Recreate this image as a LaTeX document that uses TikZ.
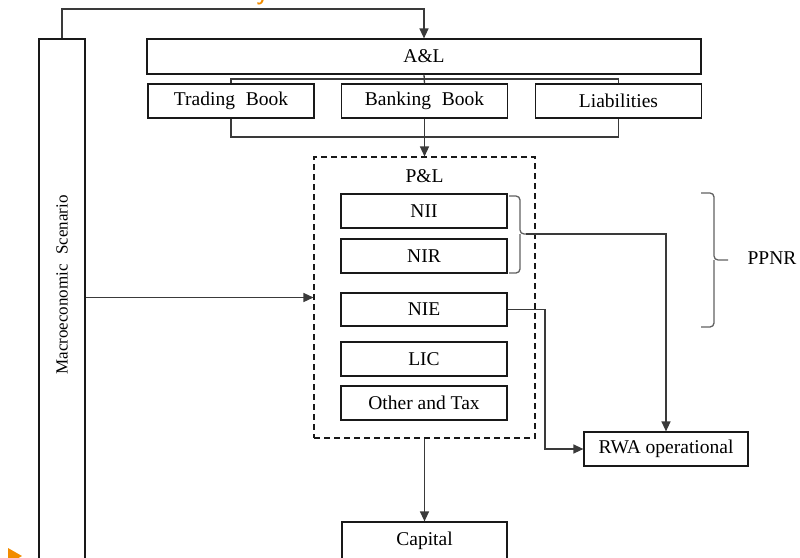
\documentclass[tikz,border=0pt]{standalone}
\usepackage{fontspec}
\setmainfont{Liberation Serif}
\usetikzlibrary{arrows.meta,calc}
\definecolor{lin}{HTML}{3A3A3A}
\definecolor{org}{HTML}{F28C00}
\tikzset{
  txt/.style={font=\fontsize{19.5}{22}\selectfont},
  box/.style={draw=black!90, line width=1.2pt, fill=white, inner sep=0pt, txt},
  conn/.style={draw=lin, line width=1.3pt},
  arr/.style={conn, -{Triangle[length=10pt,width=9pt]}},
  brc/.style={draw=lin!80, line width=1.3pt, rounded corners=4pt},
}
\begin{document}
\begin{tikzpicture}[x=1pt,y=-1pt]
\useasboundingbox (0,0) rectangle (800,557);
\clip (0,0) rectangle (800,557);
% orange fragments
\node[text=org, font=\sffamily\bfseries\fontsize{22}{24}\selectfont, anchor=base, inner sep=0pt] (oy) at (262,0) {y};
\fill[org] (8,548) -- (22,556) -- (8,564) -- cycle;
% macro box
\node[box, minimum width=46pt, minimum height=545pt] (macro) at (62,311.5) {};
\node[rotate=90, font=\fontsize{17}{20}\selectfont] (mtxt) at (62,285) {Macroeconomic\hspace{0.3em} Scenario};
% A&L
\node[box, minimum width=554pt, minimum height=35pt] (al) at (424,56.5) {A\&L};
\coordinate (ytop) at (0,79);
\coordinate (ybot) at (0,137);
\coordinate (topc) at (424,9);
\node[box, minimum width=166pt, minimum height=34pt] (tb) at (231,101) {};
\node[box, minimum width=166pt, minimum height=34pt] (lb) at (618.5,101) {};
\draw[conn] (tb.north) -- (tb.north |- ytop) -| (lb.north);
\draw[conn] (tb.south) -- (tb.south |- ybot) -| (lb.south);
\node[box, minimum width=166pt, minimum height=34pt] (tb) at (231,101) {Trading\hspace{0.3em} Book};
\node[box, minimum width=166pt, minimum height=34pt] (bb) at (424.5,101) {Banking\hspace{0.3em} Book};
\node[box, minimum width=166pt, minimum height=34pt] (lb) at (618.5,101) {Liabilities};
\draw[conn] (al.south) -- (bb.north);
\draw[arr] (macro.north) |- (topc) -- (al.north);
% P&L
\node[draw=black!90, dash pattern=on 6pt off 4pt, line width=1.1pt, minimum width=221pt, minimum height=281pt, inner sep=0pt] (pl) at (424.5,297.5) {};
\node[txt] (pltxt) at (424.5,176) {P\&L};
\node[box, minimum width=166pt, minimum height=34pt] (nii) at (424,211) {NII};
\node[box, minimum width=166pt, minimum height=34pt] (nir) at (424,256) {NIR};
\node[box, minimum width=166pt, minimum height=33pt] (nie) at (424,309.5) {NIE};
\node[box, minimum width=166pt, minimum height=34pt] (lic) at (424,359) {LIC};
\node[box, minimum width=166pt, minimum height=34pt] (oth) at (424,403) {Other and Tax};
\draw[arr] (bb.south) -- (pl.north);
\draw[arr] (macro.east |- pl.west) -- (pl.west);
% RWA
\node[box, minimum width=164pt, minimum height=34pt] (rwa) at (666,449) {RWA operational};
\coordinate (b1) at (526,234);
\coordinate (kx) at (545,0);
\draw[brc] (509,196) -- (520,196) -- (520,234) -- (526,234);
\draw[brc] (509,273) -- (520,273) -- (520,234);
\draw[arr] (b1) -| (rwa.north);
\draw[arr] (nie.east) -- (nie.east -| kx) |- (rwa.west);
% PPNR brace
\draw[brc] (701,193) -- (714,193) -- (714,260) -- (728,260);
\draw[brc] (701,327) -- (714,327) -- (714,260);
\node[txt] (ppnr) at (772,258) {PPNR};
% Capital
\node[box, minimum width=165pt, minimum height=38pt] (cap) at (424.5,541) {Capital};
\draw[arr] (pl.south) -- (cap.north);
\end{tikzpicture}
\end{document}
